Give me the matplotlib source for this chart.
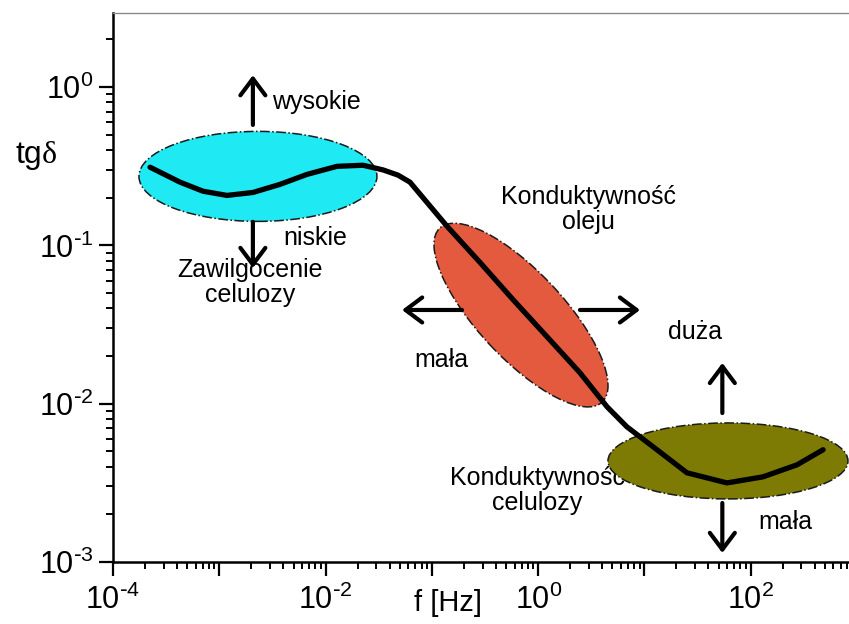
import matplotlib.pyplot as plt
import numpy as np
from matplotlib.patches import Ellipse
from matplotlib.transforms import ScaledTranslation
from matplotlib.ticker import FixedLocator, NullFormatter

plt.rcParams['font.family'] = ['Liberation Sans', 'DejaVu Sans']
plt.rcParams['mathtext.default'] = 'regular'

# tg(delta) vs frequency
freq = [2.23e-4, 4.27e-4, 7.03e-4, 1.18e-3, 2.07e-3, 3.72e-3, 6.68e-3, 0.0128,
        0.0225, 0.0347, 0.0480, 0.0622, 0.139, 0.284, 0.579, 1.21, 2.47, 4.44, 6.84,
        13.1, 25.1, 59.7, 130.0, 272.0, 479.0]
tgd = [0.312, 0.251, 0.220, 0.207, 0.216, 0.243, 0.281, 0.316,
       0.321, 0.300, 0.278, 0.251, 0.132, 0.078, 0.0455, 0.0265, 0.0157, 0.00957, 0.00714,
       0.00512, 0.00366, 0.00316, 0.00345, 0.00411, 0.00512]

x_decades = [1e-4, 1e-3, 1e-2, 1e-1, 1e0, 1e1, 1e2]
x_ticklabels = [r'$10^{\text{-}4}$', '', r'$10^{\text{-}2}$', '', r'$10^{0}$', '', r'$10^{2}$']
y_decades = [1e-3, 1e-2, 1e-1, 1e0]
y_ticklabels = [r'$10^{\text{-}3}$', r'$10^{\text{-}2}$', r'$10^{\text{-}1}$', r'$10^{0}$']

# regions: centre (f, tgd), semi axes in pixels, rotation, colour
regions = [
    ((2.31e-3, 0.273), 119, 45, 0, '#1fe9f2'),
    ((0.689, 0.0363), 119, 43, -47, '#e45a3f'),
    ((61.0, 0.00435), 120, 38, 0, '#7d7b04'),
]

fig = plt.figure(figsize=(8.49, 6.24), dpi=100)
ax = fig.add_axes([113 / 849, 62 / 624, 1 - 113 / 849, 549 / 624])
ax.set_xscale('log')
ax.set_yscale('log')

for (cx, cy), a, b, ang, col in regions:
    tr = ScaledTranslation(cx, cy, ax.transData)
    e = Ellipse((0, 0), 2 * a, 2 * b, angle=ang, transform=tr,
                facecolor=col, edgecolor='#1a1a1a', lw=1.1, linestyle='-.', zorder=3)
    ax.add_patch(e)

ax.plot(freq, tgd, color='black', lw=3.8, solid_capstyle='round',
        solid_joinstyle='round', zorder=4)

# annotation texts
fs = 18
ax.text(3.13e-3, 0.805, 'wysokie', fontsize=fs, ha='left', va='center', zorder=2)
ax.text(3.97e-3, 0.111, 'niskie', fontsize=fs, ha='left', va='center', zorder=2)
ax.text(1.94e-3, 0.0584, 'Zawilgocenie\ncelulozy', fontsize=fs, ha='center',
        va='center', linespacing=1.05, zorder=2)
ax.text(3.0, 0.168, 'Konduktywność\noleju', fontsize=fs, ha='center',
        va='center', linespacing=1.05, zorder=2)
ax.text(0.122, 0.0189, 'mała', fontsize=fs, ha='center', va='center', zorder=2)
ax.text(29.9, 0.0285, 'duża', fontsize=fs, ha='center', va='center', zorder=2)
ax.text(210, 0.00179, 'mała', fontsize=fs, ha='center', va='center', zorder=2)
ax.text(0.975, 0.00281, 'Konduktywność\ncelulozy', fontsize=fs, ha='center',
        va='center', linespacing=1.05, zorder=2)

# arrows
arrows = [
    ((2.07e-3, 0.577), (2.07e-3, 1.19)),
    ((2.07e-3, 0.141), (2.07e-3, 0.072)),
    ((0.192, 0.0391), (0.0524, 0.0391)),
    ((2.47, 0.0391), (9.08, 0.0391)),
    ((54.0, 0.00873), (54.0, 0.0181)),
    ((54.0, 0.00236), (54.0, 0.00114)),
]
for start, end in arrows:
    ax.annotate('', xy=end, xytext=start, zorder=5,
                arrowprops=dict(arrowstyle='->,head_length=0.6,head_width=0.45',
                                lw=3, color='black', mutation_scale=20,
                                shrinkA=0, shrinkB=0))

# axes styling
for side in ['left', 'bottom']:
    ax.spines[side].set_linewidth(1.8)
ax.spines['top'].set_color('#8a8a8a')
ax.spines['top'].set_linewidth(1.0)
ax.spines['right'].set_visible(False)

ax.set_xticks(x_decades, x_ticklabels)
ax.set_yticks(y_decades, y_ticklabels)
minor_x = [d * m for d in x_decades for m in range(2, 10)]
minor_y = [d * m for d in y_decades for m in range(2, 10)]
ax.xaxis.set_minor_locator(FixedLocator(minor_x))
ax.yaxis.set_minor_locator(FixedLocator(minor_y))
ax.xaxis.set_minor_formatter(NullFormatter())
ax.yaxis.set_minor_formatter(NullFormatter())
ax.tick_params(which='major', direction='out', length=10, width=1.6, labelsize=22,
               top=False, right=False)
ax.tick_params(which='minor', direction='out', length=5, width=1.4,
               top=False, right=False)
ax.tick_params(axis='y', which='major', pad=4)
ax.tick_params(axis='x', which='major', pad=6)

ax.set_xlim(1e-4, 10 ** 2.924)
ax.set_ylim(1e-3, 2.94)

t1 = fig.text(15 / 849, 1 - 163 / 624, 'tg', fontsize=23, ha='left', va='baseline')
ax.annotate('δ', xy=(1, 0), xycoords=t1, fontsize=23, ha='left', va='bottom',
            family=['Liberation Serif', 'DejaVu Serif'], annotation_clip=False)
fig.text(448 / 849, 1 - 603 / 624, 'f [Hz]', fontsize=21, ha='center', va='center')

fig.savefig('out.png', dpi=100)
